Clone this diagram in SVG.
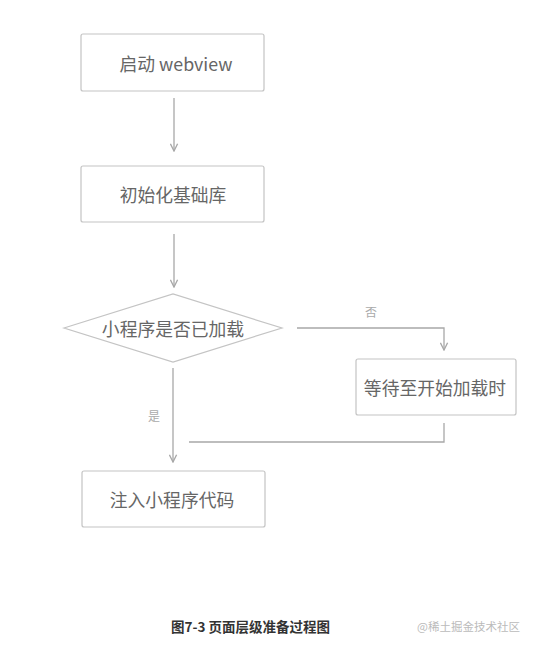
<svg xmlns="http://www.w3.org/2000/svg" width="534" height="648" viewBox="0 0 534 648">
<defs>
<style>
.box{fill:#fff;stroke:#c4c4c4;stroke-width:1.2}
.t{font-family:"Noto Sans CJK SC","Noto Sans",sans-serif;font-size:17.8px;fill:#666;text-anchor:middle;dominant-baseline:central}
.lbl{font-family:"Noto Sans CJK SC",sans-serif;font-size:12px;fill:#aaa;text-anchor:middle;dominant-baseline:central}
.ln{fill:none;stroke:#a8a8a8;stroke-width:1.3}
</style>
<marker id="ah" viewBox="0 0 10 10" refX="9" refY="5" markerWidth="9" markerHeight="9" markerUnits="userSpaceOnUse" orient="auto">
<path d="M1,1 L9,5 L1,9" fill="none" stroke="#a8a8a8" stroke-width="1.5"/>
</marker>
</defs>
<rect width="534" height="648" fill="#fff"/>
<g id="connectors">
<line class="ln" x1="174" y1="98" x2="174" y2="151" marker-end="url(#ah)"/>
<line class="ln" x1="174" y1="234" x2="174" y2="287" marker-end="url(#ah)"/>
<polyline class="ln" points="297,328 444,328 444,350" marker-end="url(#ah)"/>
<line class="ln" x1="173" y1="368" x2="173" y2="462" marker-end="url(#ah)"/>
<polyline class="ln" points="444,423 444,442 189,442"/>
<text class="lbl" x="371" y="311">否</text>
<text class="lbl" x="154" y="415">是</text>
</g>
<g id="start">
<rect class="box" x="81" y="34" width="183" height="57" rx="2"/>
<text class="t" x="176" y="62.5">启动 webview</text>
</g>
<g id="init">
<rect class="box" x="81" y="166" width="183" height="56" rx="2"/>
<text class="t" x="173" y="194">初始化基础库</text>
</g>
<g id="decision">
<polygon class="box" points="64,328 173,294 282,328 173,362"/>
<text class="t" x="173" y="328">小程序是否已加载</text>
</g>
<g id="wait">
<rect class="box" x="356" y="359" width="160" height="56" rx="2"/>
<text class="t" x="435" y="387">等待至开始加载时</text>
</g>
<g id="inject">
<rect class="box" x="82" y="471" width="183" height="56" rx="2"/>
<text class="t" x="172" y="499">注入小程序代码</text>
</g>
<text x="171" y="632" font-family="'Noto Sans CJK SC',sans-serif" font-size="13.5" font-weight="bold" fill="#333">图7-3 页面层级准备过程图</text>
<text x="417" y="631" font-family="'Noto Sans CJK SC',sans-serif" font-size="11.5" fill="#bbb">@稀土掘金技术社区</text>
</svg>
